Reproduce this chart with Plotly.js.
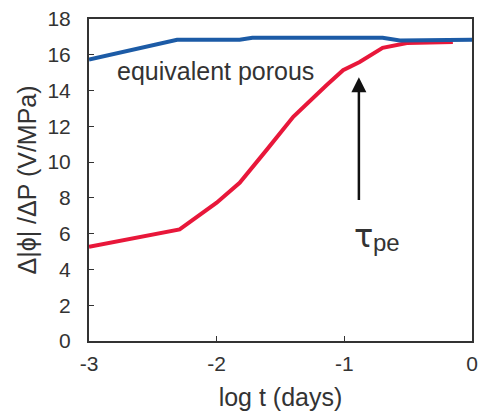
<!DOCTYPE html>
<html><head><meta charset="utf-8">
<script src="https://cdn.plot.ly/plotly-3.0.1.min.js"></script>
<style>html,body{margin:0;padding:0;background:#fff}#chart{width:478px;height:419px}</style>
</head><body><div id="chart"></div>
<script>
const blueX = [-3, -2.31, -1.82, -1.72, -0.70, -0.565, 0];
const blueY = [15.74, 16.84, 16.84, 16.95, 16.95, 16.8, 16.84];
const redX = [-3, -2.29, -2.0, -1.82, -1.61, -1.40, -1.14, -1.01, -0.88, -0.70, -0.51, -0.15];
const redY = [5.27, 6.24, 7.73, 8.84, 10.67, 12.53, 14.30, 15.14, 15.6, 16.39, 16.66, 16.72];
const xTicks = [-3, -2, -1, 0];
const yTicks = [0, 2, 4, 6, 8, 10, 12, 14, 16, 18];

const traces = [
  {x: redX, y: redY, mode: 'lines', line: {color: '#e8173a', width: 4}, hoverinfo: 'skip'},
  {x: blueX, y: blueY, mode: 'lines', line: {color: '#1c5ba6', width: 4}, hoverinfo: 'skip'}
];
const fam = 'Liberation Sans, Arial, sans-serif';
const layout = {
  width: 478, height: 419,
  margin: {l: 89, r: 6, t: 19, b: 78},
  showlegend: false,
  paper_bgcolor: '#fff', plot_bgcolor: '#fff',
  font: {family: fam, size: 21, color: '#333'},
  xaxis: {range: [-3, 0], tickvals: xTicks, ticktext: xTicks.map(String), ticks: 'inside', ticklen: 5, tickcolor: '#333',
    showgrid: false, zeroline: false, showline: true, linecolor: '#333', linewidth: 2, mirror: true, ticklabelstandoff: 3,
    title: {text: 'log t (days)', font: {size: 25, color: '#333'}, standoff: 14}, tickfont: {size: 21, color: '#333'}},
  yaxis: {range: [0, 18], tickvals: yTicks, ticks: 'inside', ticklen: 5, tickcolor: '#333',
    showgrid: false, zeroline: false, showline: true, linecolor: '#333', linewidth: 2, mirror: true, ticklabelstandoff: 12,
    title: {text: 'Δ|ϕ| /ΔP (V/MPa)', font: {size: 25, color: '#333'}, standoff: 4}, tickfont: {size: 21, color: '#333'}},
  annotations: [
    {x: -2.796, y: 15.08, xref: 'x', yref: 'y', text: 'equivalent porous', showarrow: false, xanchor: 'left', yanchor: 'middle',
      font: {size: 25, color: '#333'}},
    {x: -0.886, y: 14.75, ax: -0.886, ay: 7.15, xref: 'x', yref: 'y', axref: 'x', ayref: 'y', text: ' ', showarrow: true,
      arrowhead: 2, arrowsize: 1.2, arrowwidth: 2.5, arrowcolor: '#111'},
    {x: -0.94, y: 5.85, xref: 'x', yref: 'y', text: 'τ', showarrow: false,
      xanchor: 'left', yanchor: 'middle', font: {family: 'DejaVu Sans, sans-serif', size: 32, color: '#333'}},
    {x: -0.79, y: 5.5, xref: 'x', yref: 'y', text: 'pe', showarrow: false,
      xanchor: 'left', yanchor: 'middle', font: {size: 24, color: '#333'}}
  ]
};
Plotly.newPlot('chart', traces, layout, {staticPlot: true, displayModeBar: false});
</script></body></html>
